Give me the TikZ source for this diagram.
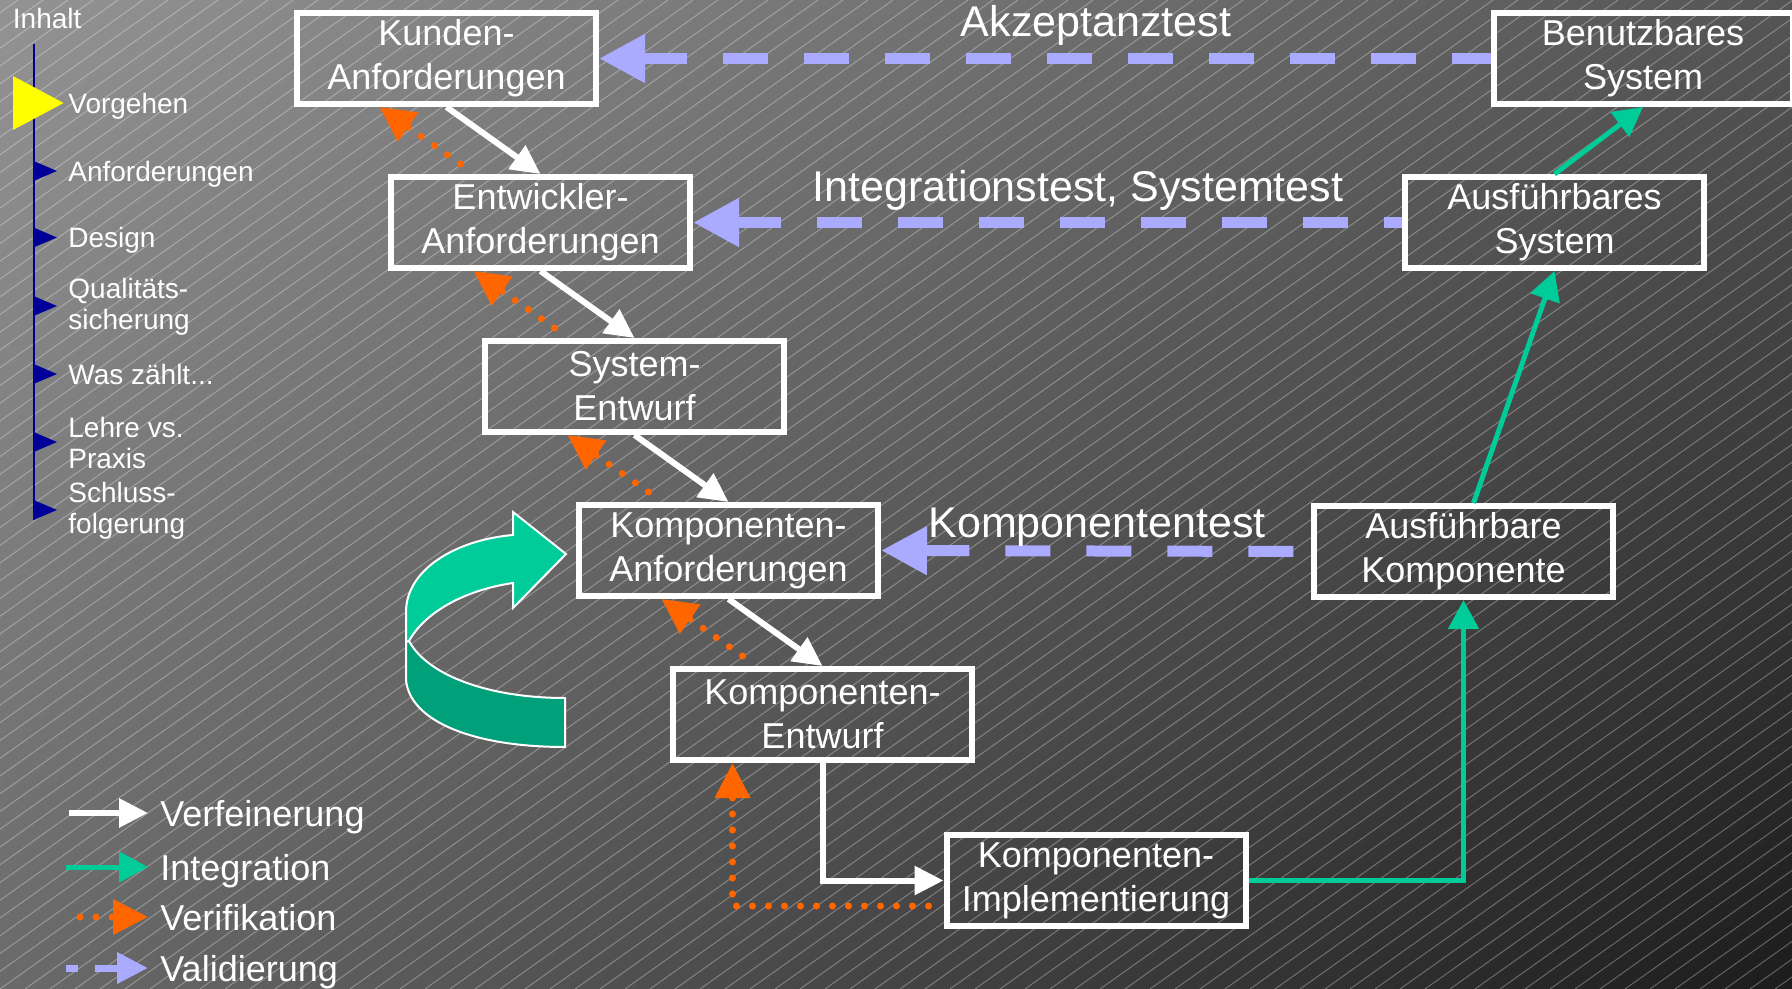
\documentclass[tikz,border=0pt]{standalone}
\usepackage{fontspec}
\setmainfont{Liberation Sans}
\usetikzlibrary{
  arrows.meta,
  shadings
}

\definecolor{bgtl}{RGB}{147,147,147}
\definecolor{bgtr}{RGB}{85,85,85}
\definecolor{bgbl}{RGB}{106,106,106}
\definecolor{bgbr}{RGB}{28,28,28}
\definecolor{intgreen}{RGB}{0,204,153}
\definecolor{ribbondark}{RGB}{0,160,122}
\definecolor{veriforange}{RGB}{255,102,0}
\definecolor{validblue}{RGB}{170,170,255}
\definecolor{navblue}{RGB}{0,0,153}
\definecolor{navyellow}{RGB}{255,255,0}

\begin{document}
\begin{tikzpicture}[
  x = 0.5pt,
  y = -0.5pt,
  % ── Stage box ───────────────────────────────────────────
  stage/.style={
    rectangle,
    draw           = white,
    line width     = 3pt,
    minimum width  = 149.5pt,
    minimum height = 45.5pt,
    inner sep      = 0pt,
    align          = center,
    text           = white,
    font           = \fontsize{18}{22}\selectfont
  },
  % ── Arrows ──────────────────────────────────────────────
  refine/.style={
    -{Triangle[length=14.5pt, width=14pt]},
    draw       = white,
    line width = 3pt
  },
  integ/.style={
    -{Triangle[length=14.5pt, width=15pt]},
    draw       = intgreen,
    line width = 2.5pt
  },
  verif/.style={
    -{Triangle[length=17.5pt, width=17pt]},
    draw         = veriforange,
    line width   = 3.5pt,
    line cap     = round,
    dash pattern = on 0pt off 8pt
  },
  valid/.style={
    {Triangle[length=23pt, width=23pt]}-,
    draw         = validblue,
    line width   = 5.5pt,
    dash pattern = on 22.5pt off 18pt
  },
  validlegend/.style={
    -{Triangle[length=15.5pt, width=15pt]},
    draw         = validblue,
    line width   = 3.5pt,
    dash pattern = on 12.5pt off 8.5pt,
    dash phase   = 6.5pt
  },
  % ── Texts ───────────────────────────────────────────────
  testlbl/.style={
    text      = white,
    anchor    = base,
    inner sep = 0pt,
    font      = \fontsize{21.5}{24}\selectfont
  },
  legtext/.style={
    text        = white,
    anchor      = west,
    inner sep   = 0pt,
    text height = 13pt,
    text depth  = 0pt,
    font        = \fontsize{18}{22}\selectfont
  },
  navitem/.style={
    text      = white,
    anchor    = west,
    align     = left,
    inner sep = 0pt,
    font      = \fontsize{14}{15.5}\selectfont
  },
  hatch/.style={
    draw          = white,
    draw opacity  = 0.3,
    line width    = 0.5pt
  },
  ribbon/.style={
    draw       = white,
    line width = 1pt
  }
]

% ── Background ─────────────────────────────────────────────
\useasboundingbox (0,0) rectangle (1792,989);
\shade[upper left=bgtl, upper right=bgtr, lower left=bgbl, lower right=bgbr]
  (0,0) rectangle (1792,989);
\begin{scope}
  \clip (0,0) rectangle (1792,989);
  \foreach \hx in {-1400,-1375,...,1800}
    \draw[hatch] (\hx,989) -- ++(1393,-989);
\end{scope}

% ── Side navigation ────────────────────────────────────────
\node[navitem, anchor=base west] (inhalt) at (12.5,28.6) {Inhalt};
\coordinate (navtop) at (34,43.6);
\coordinate (navbot) at (34,520);
\draw[navblue, line width=1.4pt] (navtop) -- (navbot);
\fill[navyellow] (13,76) -- (63.6,103) -- (13,130) -- cycle;
\foreach \yy in {171,237.5,306,374,442,510}
  \fill[navblue] (34,\yy-9.8) -- (57,\yy) -- (34,\yy+9.8) -- cycle;
\foreach \yy/\txt in {106/Vorgehen, 174/Anforderungen, 240.5/Design,
                      307/{Qualitäts-\\sicherung}, 374/{Was zählt...},
                      443/{Lehre vs.\\Praxis}, 511/{Schluss-\\folgerung}}
  \node[navitem] (nav-\yy) at (68,\yy) {\txt};

% ── Loop ribbon ────────────────────────────────────────────
\filldraw[ribbon, fill=ribbondark]
  (406,630) -- (406,680) .. controls (410,722) and (475,747) .. (565,747)
  -- (565,698) .. controls (490,698) and (428,676) .. (409,641) -- cycle;
\filldraw[ribbon, fill=intgreen]
  (406,642) -- (406,612) .. controls (406,570) and (455,540) .. (513,535)
  -- (513,512) -- (566,554) -- (513,608) -- (513,583)
  .. controls (465,590) and (425,612) .. (409,641) -- cycle;

% ── Stages ─────────────────────────────────────────────────
\node[stage] (kunden)   at (446.5,58.5)            {Kunden-\\Anforderungen};
\node[stage] (entw)     at ([shift={(94,164)}]kunden)  {Entwickler-\\Anforderungen};
\node[stage] (sysentw)  at ([shift={(94,164)}]entw)    {System-\\Entwurf};
\node[stage] (kompanf)  at ([shift={(94,164)}]sysentw) {Komponenten-\\Anforderungen};
\node[stage] (kompentw) at ([shift={(94,164)}]kompanf) {Komponenten-\\Entwurf};
\node[stage] (kompimpl) at (1096,880.5)            {Komponenten-\\Implementierung};
\node[stage] (ausfkomp) at (1463.5,551.5)          {Ausführbare\\Komponente};
\node[stage] (ausfsys)  at (1554.5,222.5)          {Ausführbares\\System};
\node[stage] (benutz)   at (1643,58.5)             {Benutzbares\\System};

% ── Refinement ─────────────────────────────────────────────
\foreach \f/\t in {kunden/entw, entw/sysentw, sysentw/kompanf, kompanf/kompentw}
  \draw[refine] (\f.south) -- (\t.north);
\draw[refine] (kompentw.south) |- (kompimpl.west);

% ── Verification ───────────────────────────────────────────
\foreach \f/\t in {entw/kunden, sysentw/entw, kompanf/sysentw, kompentw/kompanf}
  \draw[verif] ([shift={(-80,-10)}]\f.north) -- ([shift={(-67,0)}]\t.south);
\draw[verif] ([shift={(-15,25.5)}]kompimpl.west) -| ([shift={(-90,0)}]kompentw.south);

% ── Integration ────────────────────────────────────────────
\draw[integ] (kompimpl.east) -| (ausfkomp.south);
\draw[integ] ([shift={(10,0)}]ausfkomp.north) -- (ausfsys.south);
\draw[integ] (ausfsys.north) -- (benutz.south);

% ── Validation ─────────────────────────────────────────────
\draw[valid] (kunden.east)  -- (benutz.west);
\draw[valid] (entw.east)    -- (ausfsys.west);
\draw[valid] (kompanf.east) -- (ausfkomp.west);

\node[testlbl] (akzlbl) at (1096,37)  {Akzeptanztest};
\node[testlbl] (intlbl) at (1078,202) {Integrationstest, Systemtest};
\node[testlbl] (komlbl) at (1097,537) {Komponententest};

% ── Legend ─────────────────────────────────────────────────
\foreach \sty/\txt/\xx/\yy in {refine/Verfeinerung/69/813, integ/Integration/66/867,
                               verif/Verifikation/80/917, validlegend/Validierung/66/968}{
  \coordinate (leg-\yy) at (\xx,\yy);
  \node[legtext] (legtxt-\yy) at (160,\yy) {\txt};
  \draw[\sty, shorten >=6pt] (leg-\yy) -- (legtxt-\yy.west);
}

\end{tikzpicture}
\end{document}
